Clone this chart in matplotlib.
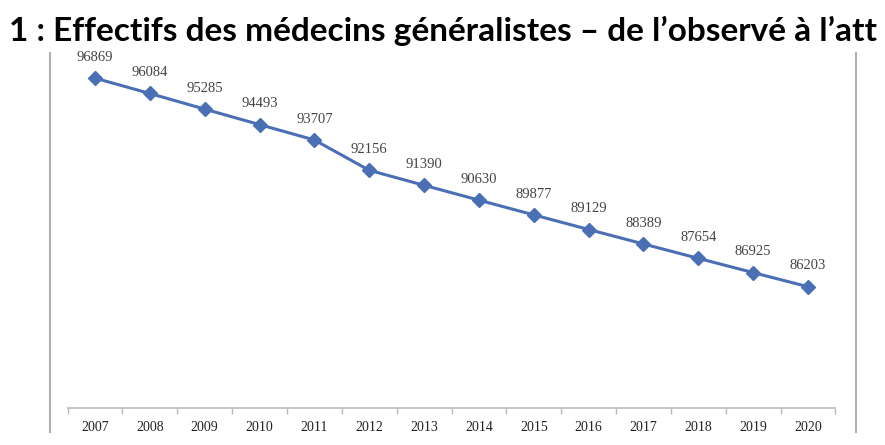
import matplotlib
matplotlib.use("Agg")
import matplotlib.pyplot as plt
from matplotlib.lines import Line2D

# values
years = ["2007", "2008", "2009", "2010", "2011", "2012", "2013",
         "2014", "2015", "2016", "2017", "2018", "2019", "2020"]
effectifs = [96869, 96084, 95285, 94493, 93707, 92156, 91390,
             90630, 89877, 89129, 88389, 87654, 86925, 86203]
# the title is cut at the right edge in the original picture
titre = "1 : Effectifs des médecins généralistes – de l’observé à l’att"

fig = plt.figure(figsize=(8.85, 4.45), dpi=100)
ax = fig.add_axes([0.0764, 0.0831, 0.8676, 0.791])

x = range(len(years))
ax.plot(x, effectifs, color="#4a6fb5", lw=2.2, marker="D", ms=7,
        mfc="#4a6fb5", mec="#4a6fb5")

for i, v in enumerate(effectifs):
    ax.annotate(str(v), (i, v), xytext=(0, 15), textcoords="offset points",
                ha="center", va="center", fontsize=10.5,
                family="Liberation Serif", color="#444444")

ax.set_xlim(-0.5, len(years) - 0.5)
ax.set_ylim(80000, 98000)
ax.set_xticks(list(x))
ax.set_xticklabels(years, family="Liberation Serif", fontsize=10, color="#222222")
ax.set_xticks([i - 0.5 for i in range(len(years) + 1)], minor=True)
ax.tick_params(axis="x", which="major", length=0, pad=9)
ax.tick_params(axis="x", which="minor", length=4, color="#bbbbbb", width=1)
ax.set_yticks([])
for s in ["top", "right", "left"]:
    ax.spines[s].set_visible(False)
ax.spines["bottom"].set_color("#bbbbbb")
ax.spines["bottom"].set_linewidth(1.2)

# grey frame lines on both sides of the chart picture
for xf in [50 / 885, 856 / 885]:
    fig.add_artist(Line2D([xf, xf], [1 - 53 / 445, 1 - 432 / 445],
                          color="#b0b0b0", lw=1.5))

fig.text(9 / 885, 1 - 41 / 445, titre, fontsize=24, fontweight="bold",
         family="Lato", ha="left", va="baseline", color="black")

fig.savefig("out.png", dpi=100)
